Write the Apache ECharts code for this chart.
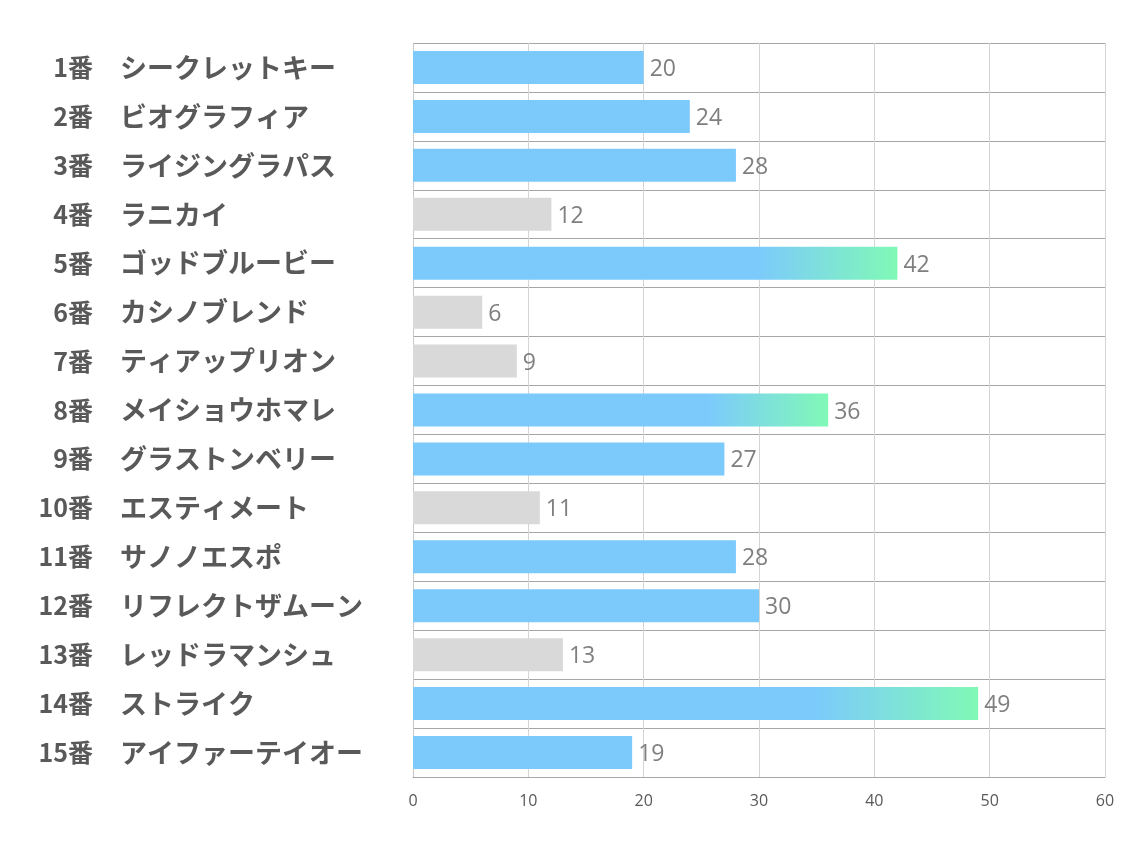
<!DOCTYPE html>
<html>
<head>
<meta charset="utf-8">
<script src="https://cdn.jsdelivr.net/npm/echarts@6/dist/echarts.min.js"></script>
<style>html,body{margin:0;padding:0;background:#fff}#c{width:1134px;height:850px}</style>
</head>
<body>
<div id="c"></div>
<script>
const numbers = ['1番','2番','3番','4番','5番','6番','7番','8番','9番','10番','11番','12番','13番','14番','15番'];
const names = ['シークレットキー','ビオグラフィア','ライジングラパス','ラニカイ','ゴッドブルービー','カシノブレンド','ティアップリオン','メイショウホマレ','グラストンベリー','エスティメート','サノノエスポ','リフレクトザムーン','レッドラマンシュ','ストライク','アイファーテイオー'];
const values = [20,24,28,12,42,6,9,36,27,11,28,30,13,49,19];
const xTicks = [0,10,20,30,40,50,60];

function barColor(v){
  if (v < 15) return '#d9d9d9';
  if (v >= 35) return new echarts.graphic.LinearGradient(0,0,1,0,[
    {offset:0,color:'#7ccafc'},{offset:0.71,color:'#7ccafc'},{offset:1,color:'#80f9b6'}]);
  return '#7ccafc';
}
const chart = echarts.init(document.getElementById('c'));
chart.setOption({
  backgroundColor:'#fff',
  animation:false,
  grid:{left:413,right:29,top:43,bottom:73,containLabel:false},
  xAxis:{
    type:'value',min:xTicks[0],max:xTicks[xTicks.length-1],interval:10,
    axisLine:{show:true,lineStyle:{color:'#a6a6a6',width:1}},
    axisTick:{show:false},
    axisLabel:{margin:16,color:'#595959',fontSize:16,fontFamily:'Open Sans'},
    splitLine:{show:true,lineStyle:{color:'#d4d4d4',width:1}}
  },
  yAxis:[{
    type:'category',inverse:true,data:names,position:'left',
    axisLine:{show:true,lineStyle:{color:'#c8c8c8'}},
    axisTick:{show:false},
    splitLine:{show:true,lineStyle:{color:'#a6a6a6',width:1}},
    axisLabel:{align:'left',margin:293,fontSize:27,fontWeight:'bold',color:'#595959',fontFamily:'"Noto Sans CJK JP"'}
  },{
    type:'category',inverse:true,data:numbers,position:'left',offset:0,
    axisLine:{show:false},axisTick:{show:false},splitLine:{show:false},
    axisLabel:{align:'right',margin:320,fontSize:25,fontWeight:'bold',color:'#595959',fontFamily:'"Noto Sans CJK JP"'}
  }],
  series:[{
    type:'bar',
    barWidth:33,
    data:values.map(v=>({value:v,itemStyle:{color:barColor(v)}})),
    label:{show:true,position:'right',distance:6,offset:[0,2],color:'#7f7f7f',fontSize:23,fontFamily:'Open Sans'}
  }]
});
</script>
</body>
</html>
